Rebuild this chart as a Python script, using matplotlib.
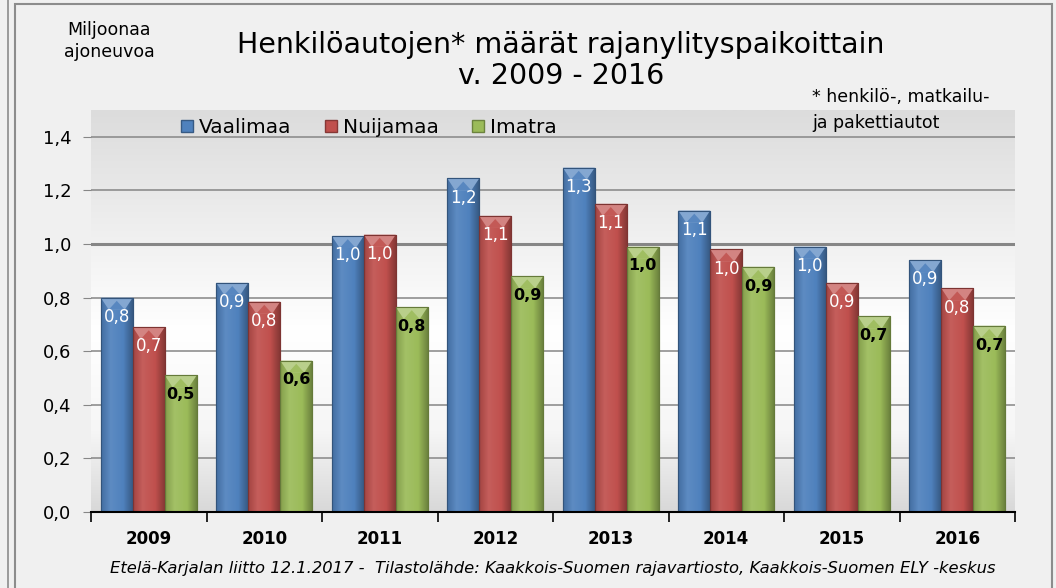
import numpy as np
import matplotlib.pyplot as plt
from matplotlib.patches import Polygon, Rectangle
from matplotlib.lines import Line2D
from matplotlib.colors import LinearSegmentedColormap, to_rgb

years = ["2009", "2010", "2011", "2012", "2013", "2014", "2015", "2016"]
vaalimaa = [0.80, 0.855, 1.03, 1.245, 1.285, 1.125, 0.99, 0.94]
nuijamaa = [0.69, 0.785, 1.035, 1.105, 1.15, 0.98, 0.855, 0.835]
imatra = [0.51, 0.565, 0.765, 0.88, 0.99, 0.915, 0.73, 0.695]
series_names = ["Vaalimaa", "Nuijamaa", "Imatra"]
colors = ["#4F81BD", "#C0504D", "#9BBB59"]
yticks = [0.0, 0.2, 0.4, 0.6, 0.8, 1.0, 1.2, 1.4]


def shade(c, f):
    r = np.array(to_rgb(c))
    if f > 0:
        return tuple(r + (1 - r) * f)
    return tuple(r * (1 + f))


def fmt(v):
    return f"{v:.1f}".replace(".", ",")


W, H = 1056, 588
fig = plt.figure(figsize=(W / 100, H / 100), dpi=100)
fig.patch.set_facecolor("#F0F0F0")

# outer frame like the original screenshot
fig.add_artist(Line2D([8 / W, 8 / W], [0, 1], color="#8C8C8C", lw=1.2))
fig.add_artist(Rectangle((15 / W, -0.05), (1052 - 15) / W, 1.05 - 4 / H,
                         fill=False, edgecolor="#8C8C8C", lw=1.5))

ax = fig.add_axes([91 / W, 1 - 512 / H, (1015 - 91) / W, (512 - 110) / H])
ax.set_xlim(-0.5, 7.5)
ax.set_ylim(0, 1.5)

# plot area gradient: gray on top, white in the middle, grayish at the bottom
bg = LinearSegmentedColormap.from_list(
    "bg", [(0, "#DCDCDC"), (0.55, "#FFFFFF"), (0.8, "#F6F6F6"), (1, "#D8D8D8")])
grad = np.linspace(0, 1, 256).reshape(-1, 1)
ax.imshow(grad, cmap=bg, aspect="auto", extent=(-0.5, 7.5, 0, 1.5),
          origin="upper", zorder=0)

for t in yticks[1:]:
    ax.axhline(t, color="#868686", lw=2.2 if t == 1.0 else 1.1, zorder=1)

x = np.arange(len(years))
w = 0.277
data = [vaalimaa, nuijamaa, imatra]
hgrad = np.linspace(0, 1, 64).reshape(1, -1)
for i, (vals, col) in enumerate(zip(data, colors)):
    bars = ax.bar(x + (i - 1) * w, vals, w, color=col, edgecolor=shade(col, -0.3),
                  lw=0.8, zorder=2)
    cm = LinearSegmentedColormap.from_list(
        "b%d" % i, [(0, shade(col, -0.15)), (0.3, shade(col, 0.08)),
                    (0.7, col), (1, shade(col, -0.3))])
    for b, v in zip(bars, vals):
        x0, x1 = b.get_x(), b.get_x() + b.get_width()
        im = ax.imshow(hgrad, cmap=cm, aspect="auto", extent=(x0, x1, 0, v), zorder=3)
        im.set_clip_path(b)
        d = 0.045
        ax.add_patch(Polygon([(x0, v), (x1, v), (x1 - 0.25 * w, v - d), (x0 + 0.25 * w, v - d)],
                             closed=True, color=shade(col, 0.3), lw=0, zorder=4))
        ax.add_patch(Polygon([(x0 + 0.25 * w, v - d), (x1 - 0.25 * w, v - d), ((x0 + x1) / 2, v - 0.012)],
                             closed=True, color=shade(col, 0.05), lw=0, zorder=4))
        ax.add_patch(Rectangle((x0, 0), x1 - x0, v, fill=False,
                               edgecolor=shade(col, -0.35), lw=0.8, zorder=5))
        if i < 2:
            ax.text((x0 + x1) / 2, v - 0.072, fmt(v), ha="center", va="center",
                    color="white", fontsize=12, zorder=6)
        else:
            ax.text((x0 + x1) / 2, v - 0.072, fmt(v), ha="center", va="center",
                    color="black", fontsize=11.5, fontweight="bold", zorder=6)

ax.set_yticks(yticks)
ax.set_yticklabels([fmt(t) for t in yticks], fontsize=13)
ax.tick_params(axis="y", length=6, color="#868686", pad=8)
ax.set_xticks(x)
ax.set_xticklabels(years, fontsize=12, fontweight="bold")
ax.set_xticks(np.arange(-0.5, 8, 1), minor=True)
ax.tick_params(axis="x", which="major", length=0, pad=13)
ax.tick_params(axis="x", which="minor", length=7, width=1.2, color="black")
for s in ["left", "right", "top"]:
    ax.spines[s].set_visible(False)
ax.spines["bottom"].set_linewidth(1.5)
ax.spines["bottom"].set_zorder(7)

handles = [Rectangle((0, 0), 1, 1, facecolor=c, edgecolor=shade(c, -0.3)) for c in colors]
ax.legend(handles, series_names, ncol=3, loc="upper left", bbox_to_anchor=(0.078, 1.025),
          frameon=False, fontsize=14.5, handlelength=0.6, handleheight=0.6,
          handletextpad=0.3, columnspacing=1.65)

fig.text(561 / W, 1 - 45 / H, "Henkilöautojen* määrät rajanylityspaikoittain",
         ha="center", va="center", fontsize=20.5)
fig.text(561 / W, 1 - 76 / H, "v. 2009 - 2016", ha="center", va="center", fontsize=20.5)
fig.text(109 / W, 1 - 41 / H, "Miljoonaa\najoneuvoa", ha="center", va="center",
         fontsize=12.5, linespacing=1.3)
fig.text(812 / W, 1 - 110 / H, "* henkilö-, matkailu-\nja pakettiautot", ha="left",
         va="center", fontsize=12.5, linespacing=1.6)
fig.text(553 / W, 1 - 568 / H,
         "Etelä-Karjalan liitto 12.1.2017 -  Tilastolähde: Kaakkois-Suomen rajavartiosto, "
         "Kaakkois-Suomen ELY -keskus",
         ha="center", va="center", fontsize=11.8, style="italic")

fig.savefig("out.png", dpi=100, facecolor=fig.get_facecolor())
